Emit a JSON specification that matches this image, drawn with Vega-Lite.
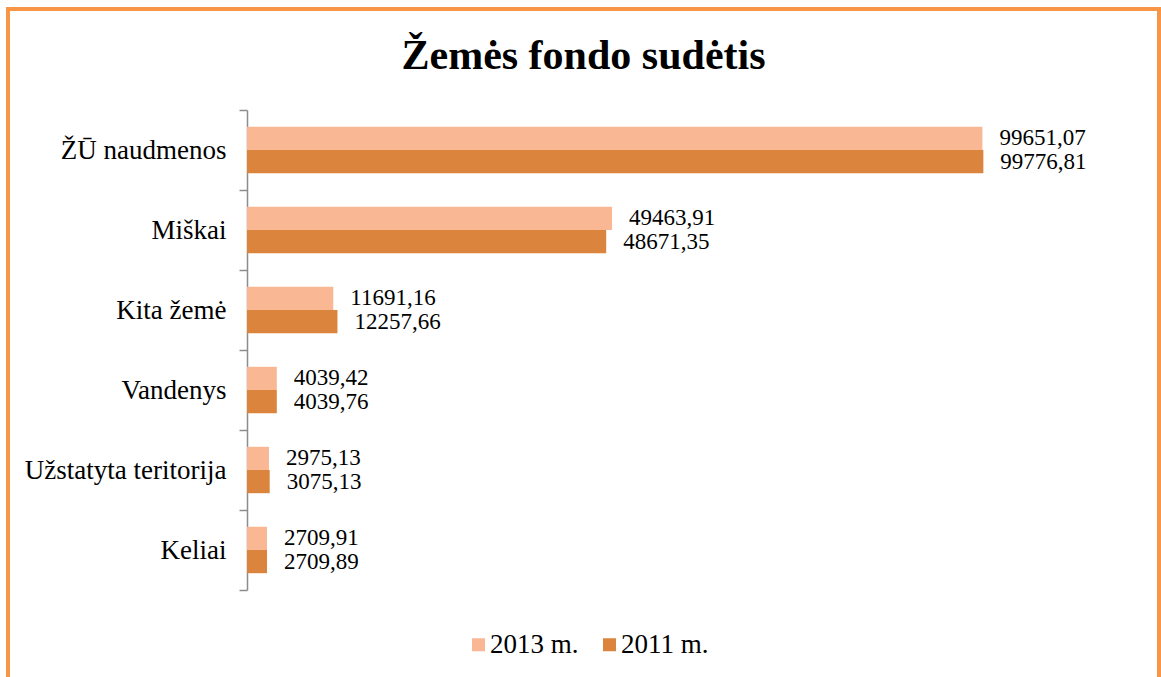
{
  "$schema": "https://vega.github.io/schema/vega-lite/v6.json",
  "autosize": {"type": "none"},
  "padding": {"left": 8, "top": 9, "right": 2, "bottom": -4},
  "width": 1151,
  "height": 672,
  "background": "white",
  "title": {
    "text": "Žemės fondo sudėtis",
    "font": "Liberation Serif",
    "fontSize": 42,
    "fontWeight": "bold",
    "color": "#000000",
    "anchor": "middle",
    "baseline": "alphabetic",
    "offset": -116
  },
  "config": {
    "view": {"stroke": "#F79646", "strokeWidth": 4},
    "locale": {"number": {"decimal": ",", "thousands": "", "grouping": [3], "currency": ["", ""]}}
  },
  "data": {
    "values": [
      {"category": "ŽŪ naudmenos", "year": "2013 m.", "value": 99651.07},
      {"category": "ŽŪ naudmenos", "year": "2011 m.", "value": 99776.81},
      {"category": "Miškai", "year": "2013 m.", "value": 49463.91},
      {"category": "Miškai", "year": "2011 m.", "value": 48671.35},
      {"category": "Kita žemė", "year": "2013 m.", "value": 11691.16},
      {"category": "Kita žemė", "year": "2011 m.", "value": 12257.66},
      {"category": "Vandenys", "year": "2013 m.", "value": 4039.42},
      {"category": "Vandenys", "year": "2011 m.", "value": 4039.76},
      {"category": "Užstatyta teritorija", "year": "2013 m.", "value": 2975.13},
      {"category": "Užstatyta teritorija", "year": "2011 m.", "value": 3075.13},
      {"category": "Keliai", "year": "2013 m.", "value": 2709.91},
      {"category": "Keliai", "year": "2011 m.", "value": 2709.89}
    ]
  },
  "encoding": {
    "y": {
      "field": "category",
      "type": "nominal",
      "sort": ["ŽŪ naudmenos", "Miškai", "Kita žemė", "Vandenys", "Užstatyta teritorija", "Keliai"],
      "scale": {"range": [101, 581], "paddingInner": 0, "paddingOuter": 0},
      "axis": {
        "title": null,
        "offset": -239,
        "labelFont": "Liberation Serif",
        "labelFontSize": 27,
        "labelColor": "#000000",
        "labelPadding": 13,
        "labelLimit": 300,
        "tickSize": 8,
        "tickBand": "extent",
        "tickColor": "#8c8c8c",
        "tickWidth": 1.5,
        "domainColor": "#8c8c8c",
        "domainWidth": 1.5,
        "grid": false
      }
    },
    "yOffset": {
      "field": "year",
      "type": "nominal",
      "sort": ["2013 m.", "2011 m."],
      "scale": {"paddingInner": 0, "paddingOuter": 0.724}
    },
    "x": {
      "field": "value",
      "type": "quantitative",
      "scale": {"domain": [0, 100000], "range": [239, 977], "nice": false, "zero": true},
      "axis": null
    }
  },
  "layer": [
    {
      "mark": {"type": "bar"},
      "encoding": {
        "color": {
          "field": "year",
          "type": "nominal",
          "scale": {"domain": ["2013 m.", "2011 m."], "range": ["#F9B794", "#DB843D"]},
          "legend": {
            "title": null,
            "orient": "none",
            "direction": "horizontal",
            "legendX": 457,
            "legendY": 622,
            "symbolType": "square",
            "symbolSize": 169,
            "symbolStrokeWidth": 0,
            "symbolOpacity": 1,
            "labelFont": "Liberation Serif",
            "labelFontSize": 27,
            "labelColor": "#000000",
            "labelOffset": -2,
            "columnPadding": 17
          }
        }
      }
    },
    {
      "mark": {"type": "text", "align": "left", "baseline": "middle", "dx": 17, "font": "Liberation Serif", "fontSize": 23, "color": "#000000"},
      "encoding": {
        "text": {"field": "value", "type": "quantitative", "format": ".2f"}
      }
    }
  ]
}
